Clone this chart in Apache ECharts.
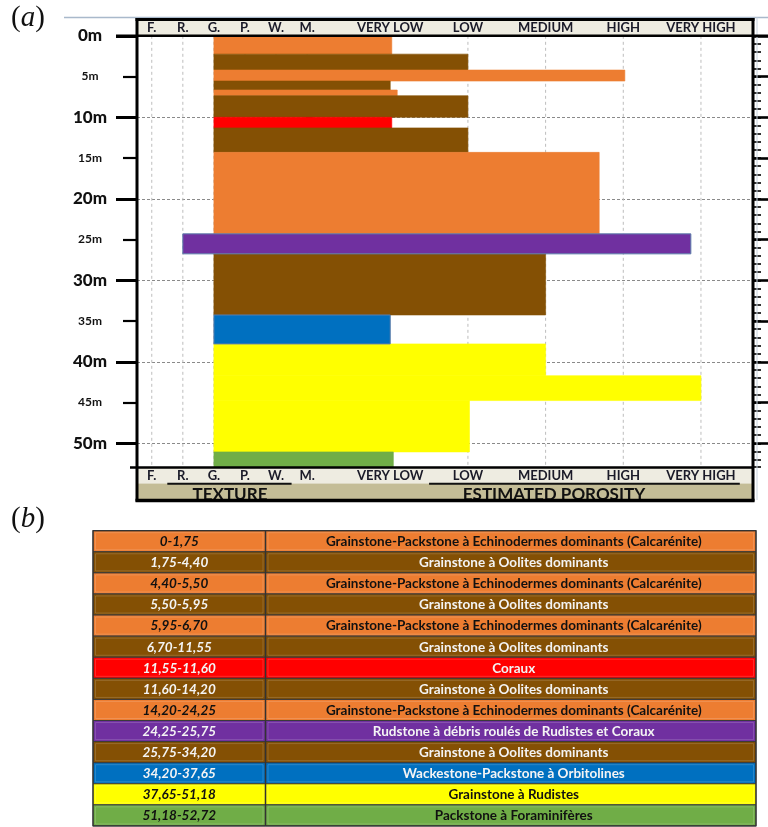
<!DOCTYPE html>
<html><head><meta charset="utf-8">
<script src="https://cdn.jsdelivr.net/npm/echarts@6/dist/echarts.min.js"></script>
<style>html,body{margin:0;padding:0;background:#fff}#c{width:768px;height:827px}</style>
</head><body><div id="c"></div>
<script>
// ---------------- DATA ----------------
const textureLabels = ['F.', 'R.', 'G.', 'P.', 'W.', 'M.'];
const texturePos = [-2.07, -1.67, -1.27, -0.87, -0.47, -0.07];
const porosityLabels = ['VERY LOW', 'LOW', 'MEDIUM', 'HIGH', 'VERY HIGH'];
const porosityPos = [1, 2, 3, 4, 5];
const depthMajor = [0, 10, 20, 30, 40, 50];
const depthMid = [5, 15, 25, 35, 45];
const depthMax = 52.9;

// bars: depth top/bottom (m), texture start, porosity end, facies
const barTop    = [0, 2.25, 4.2, 5.55, 6.65, 7.35, 10.0, 11.3, 14.3, 24.3, 26.75, 34.25, 37.8, 41.7, 44.75, 51.05];
const barBottom = [2.25, 4.2, 5.55, 6.65, 7.35, 10.0, 11.3, 14.3, 24.3, 26.75, 34.25, 37.8, 41.7, 44.75, 51.05, 52.9];
const barTexture = ['G.', 'G.', 'G.', 'G.', 'G.', 'G.', 'G.', 'G.', 'G.', 'R.', 'G.', 'G.', 'G.', 'G.', 'G.', 'G.'];
const barPorosity = [1.02, 2, 4.02, 1, 1.09, 2, 1.02, 2, 3.69, 4.87, 3, 1, 3, 5, 2.02, 1.04];
const barFacies = ['calc', 'oolite', 'calc', 'oolite', 'calc', 'oolite', 'coral', 'oolite', 'calc', 'rudstone', 'oolite', 'orbit', 'rudiste', 'rudiste', 'rudiste', 'foram'];

// table (b)
const tableRanges = ['0-1,75', '1,75-4,40', '4,40-5,50', '5,50-5,95', '5,95-6,70', '6,70-11,55', '11,55-11,60',
  '11,60-14,20', '14,20-24,25', '24,25-25,75', '25,75-34,20', '34,20-37,65', '37,65-51,18', '51,18-52,72'];
const tableNames = [
  'Grainstone-Packstone à Echinodermes dominants (Calcarénite)',
  'Grainstone à Oolites dominants',
  'Grainstone-Packstone à Echinodermes dominants (Calcarénite)',
  'Grainstone à Oolites dominants',
  'Grainstone-Packstone à Echinodermes dominants (Calcarénite)',
  'Grainstone à Oolites dominants',
  'Coraux',
  'Grainstone à Oolites dominants',
  'Grainstone-Packstone à Echinodermes dominants (Calcarénite)',
  'Rudstone à débris roulés de Rudistes et Coraux',
  'Grainstone à Oolites dominants',
  'Wackestone-Packstone à Orbitolines',
  'Grainstone à Rudistes',
  'Packstone à Foraminifères'];
const tableFacies = ['calc', 'oolite', 'calc', 'oolite', 'calc', 'oolite', 'coral', 'oolite', 'calc', 'rudstone', 'oolite', 'orbit', 'rudiste', 'foram'];

// ---------------- STYLE ----------------
const faciesColor = {calc: '#ED7D31', oolite: '#845004', coral: '#FF0000', rudstone: '#7030A0', orbit: '#0070C0', rudiste: '#FFFF00', foram: '#70AD47'};
const faciesText = {calc: '#111111', oolite: '#F4F4F4', coral: '#F4F4F4', rudstone: '#F4F4F4', orbit: '#F4F4F4', rudiste: '#111111', foram: '#111111'};
const faciesStroke = {rudstone: '#5B7DAA', orbit: '#5B7DAA'};
const FONT = 'Lato';
const xMin = -2.26, xMax = 5.67;

const chart = echarts.init(document.getElementById('c'), null, {renderer: 'canvas'});

const barData = barTop.map((t, i) => [texturePos[textureLabels.indexOf(barTexture[i])], barPorosity[i], t, barBottom[i], i]);
const gridX = texturePos.concat(porosityPos.slice(1));

function yAx(pos, interval, tick, label, split) {
  return {
    type: 'value', position: pos, inverse: true, min: 0, max: depthMax, interval: interval,
    axisLine: {show: false},
    axisTick: tick, axisLabel: label || {show: false},
    splitLine: split || {show: false}
  };
}

const option = {
  animation: false,
  backgroundColor: '#ffffff',
  textStyle: {fontFamily: FONT},
  grid: {left: 137, right: 15, top: 35.8, bottom: 360, containLabel: false},
  xAxis: [{type: 'value', min: xMin, max: xMax, show: false}],
  yAxis: [
    yAx('left', 1, {show: true, length: 7, lineStyle: {color: '#000', width: 1.6}}),
    yAx('left', 5, {show: true, customValues: depthMid, length: 14, lineStyle: {color: '#000', width: 2.2}},
      {show: true, customValues: depthMid, formatter: v => v + 'm', fontFamily: FONT, fontWeight: 'bold', fontSize: 12, color: '#111', align: 'center', margin: 47}),
    yAx('left', 10, {show: true, customValues: depthMajor, length: 21, lineStyle: {color: '#000', width: 3}},
      {show: true, customValues: depthMajor, formatter: v => v + 'm', fontFamily: FONT, fontWeight: 900, fontSize: 17, color: '#111', align: 'center', margin: 47},
      {show: true, lineStyle: {color: '#8a8a8a', width: 1, type: [3, 2]}}),
    yAx('right', 1, {show: true, length: 8, lineStyle: {color: '#000', width: 1.6}}),
    yAx('right', 5, {show: true, customValues: depthMid.concat(depthMajor), length: 15, lineStyle: {color: '#000', width: 2.6}})
  ],
  series: [
    {
      type: 'custom', name: 'grid', z: 1, silent: true,
      xAxisIndex: 0, yAxisIndex: 0,
      data: gridX.map(v => [v]),
      encode: {x: 0},
      renderItem: (params, api) => {
        const a = api.coord([api.value(0), 0]);
        const b = api.coord([api.value(0), depthMax]);
        return {type: 'line', shape: {x1: a[0], y1: a[1], x2: b[0], y2: b[1]},
          style: {stroke: '#BDBDBD', lineWidth: 1, lineDash: [3, 3]}};
      }
    },
    {
      type: 'custom', name: 'facies', z: 3, silent: true,
      xAxisIndex: 0, yAxisIndex: 0,
      data: barData,
      encode: {x: [0, 1], y: [2, 3]},
      renderItem: (params, api) => {
        const p0 = api.coord([api.value(0), api.value(2)]);
        const p1 = api.coord([api.value(1), api.value(3)]);
        const f = barFacies[api.value(4)];
        const st = {fill: faciesColor[f], stroke: faciesStroke[f] || faciesColor[f], lineWidth: faciesStroke[f] ? 1 : 0.6};
        return {type: 'rect', z2: faciesStroke[f] ? 2 : 1, shape: {x: p0[0], y: p0[1], width: p1[0] - p0[0], height: p1[1] - p0[1]}, style: st};
      }
    }
  ]
};
chart.setOption(option);

// ---------------- decorations via library scales ----------------
const px = v => chart.convertToPixel({xAxisIndex: 0}, v);
const py = v => chart.convertToPixel({yAxisIndex: 0}, v);
const L = px(xMin), R = px(xMax), T0 = py(0), B0 = py(depthMax);
const g = [];
const txt = (x, y, text, size, color, extra) => ({
  type: 'text', x: x, y: y, z: 20,
  style: Object.assign({text: text, fontFamily: FONT, fontWeight: 'bold', fontSize: size, fill: color,
    align: 'center', verticalAlign: 'middle', textAlign: 'center', textVerticalAlign: 'middle'}, extra || {})
});
const line = (x1, y1, x2, y2, w, c, z) => ({type: 'line', z: z || 20, shape: {x1, y1, x2, y2}, style: {stroke: c || '#000', lineWidth: w}});

// top faint rule
g.push(line(64, 17.5, 768, 17.5, 1.5, '#A9B9CB', 5));
g.push(line(757, 17.5, 757, 500, 1, '#C8D3DE', 5));
// header bands
g.push({type: 'rect', z: 8, shape: {x: L, y: 19, width: R - L, height: T0 - 19}, style: {fill: '#EEECE1'}});
g.push({type: 'rect', z: 8, shape: {x: L, y: B0, width: R - L, height: 16.5}, style: {fill: '#EEECE1'}});
g.push({type: 'rect', z: 8, shape: {x: L, y: B0 + 16.5, width: R - L, height: 500 - B0 - 16.5}, style: {fill: '#C4BD97'}});
// header labels
const hdrColor = '#1a1a28';
texturePos.forEach((v, i) => {
  g.push(txt(px(v), 27.8, textureLabels[i], 13, hdrColor));
  g.push(txt(px(v), 476.3, textureLabels[i], 13, hdrColor));
});
porosityPos.forEach((v, i) => {
  g.push(txt(px(v), 27.8, porosityLabels[i], 13, hdrColor));
  g.push(txt(px(v), 476.3, porosityLabels[i], 13, hdrColor));
});
// underlines
g.push(line((px(texturePos[0]) + px(texturePos[1])) / 2, 483.8, (px(texturePos[4]) + px(texturePos[5])) / 2, 483.8, 2, '#111', 21));
g.push(line((px(porosityPos[0]) + px(porosityPos[1])) / 2, 483.8, px(porosityPos[4]) + (px(porosityPos[4]) - px(porosityPos[3])) / 2, 483.8, 2, '#111', 21));
g.push(txt(230, 494.5, 'TEXTURE', 17, '#111'));
g.push(txt(554, 494.5, 'ESTIMATED POROSITY', 17, '#111'));
// frame
g.push(line(L - 1.5, 19.5, R + 1.5, 19.5, 3));
g.push(line(L, 18, L, 501.5, 3));
g.push(line(R, 18, R, 501.5, 3));
g.push(line(L - 1.5, 500.5, R + 1.5, 500.5, 3.5));
g.push(line(L - 21, T0, R + 15, T0, 2.6));
g.push(line(L - 7, B0 + 0.5, R, B0 + 0.5, 2.6));
// white below frame to clip titles
g.push({type: 'rect', z: 19, shape: {x: L - 2, y: 502, width: R - L + 4, height: 8}, style: {fill: '#fff'}});

// panel letters
const panelRich = {n: {fontFamily: 'Liberation Serif', fontSize: 29, fill: '#111'}, i: {fontFamily: 'Liberation Serif', fontStyle: 'italic', fontSize: 29, fill: '#111'}};
g.push({type: 'text', x: 11, y: 4, z: 20, style: {text: '{n|(}{i|a}{n|)}', rich: panelRich, fontSize: 29}});
g.push({type: 'text', x: 11, y: 505, z: 20, style: {text: '{n|(}{i|b}{n|)}', rich: panelRich, fontSize: 29}});

// table (b)
const tX0 = 93, tX1 = 265.5, tX2 = 756, tY0 = 530.7, tRow = 21.09;
tableRanges.forEach((r, i) => {
  const y = tY0 + i * tRow, f = tableFacies[i];
  [[tX0, tX1], [tX1, tX2]].forEach(([a, b]) => {
    g.push({type: 'rect', z: 10, shape: {x: a, y: y, width: b - a, height: tRow}, style: {fill: faciesColor[f], stroke: '#3a3a3a', lineWidth: 1}});
    g.push({type: 'rect', z: 11, shape: {x: a + 2.5, y: y + 2, width: b - a - 5, height: tRow - 4}, style: {fill: 'none', stroke: 'rgba(255,255,255,0.16)', lineWidth: 1}});
  });
  g.push(txt((tX0 + tX1) / 2, y + tRow / 2 + 0.5, r, 13.5, faciesText[f], {fontStyle: 'italic'}));
  g.push(txt((tX1 + tX2) / 2 + 3, y + tRow / 2 + 0.5, tableNames[i], 13.5, faciesText[f]));
});
g.push({type: 'rect', z: 12, shape: {x: tX0, y: tY0, width: tX2 - tX0, height: tRow * 14}, style: {fill: 'none', stroke: '#333', lineWidth: 1.2}});
g.push(line(tX1, tY0, tX1, tY0 + tRow * 14, 1.5, '#333', 12));

chart.setOption({graphic: {elements: g}});
</script>
</body></html>
